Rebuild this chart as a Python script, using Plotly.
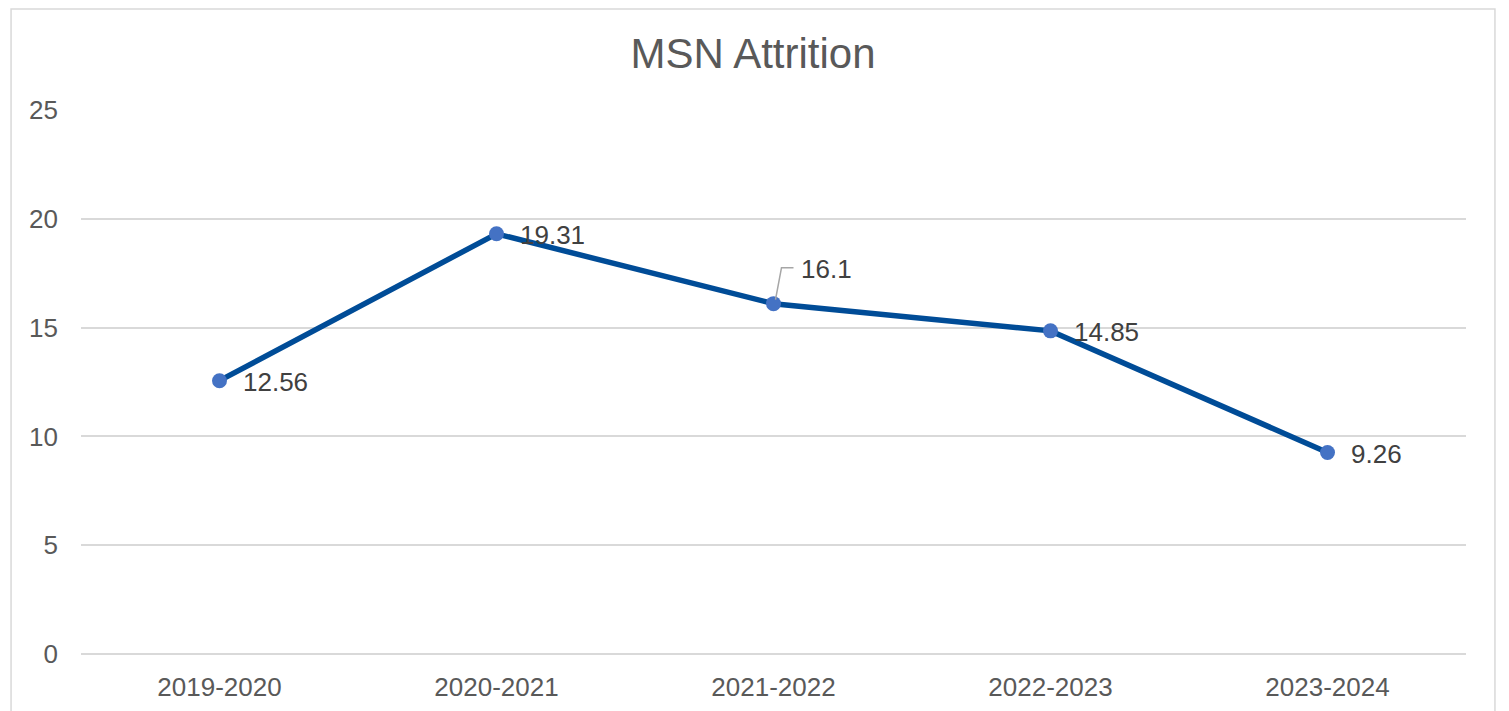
import plotly.graph_objects as go

years = ["2019-2020", "2020-2021", "2021-2022", "2022-2023", "2023-2024"]
attrition = [12.56, 19.31, 16.1, 14.85, 9.26]
y_ticks = [0, 5, 10, 15, 20, 25]

FONT = "Arial, Liberation Sans, sans-serif"
TXT = "#595959"
GRID = "#d9d9d9"

fig = go.Figure()
fig.add_trace(go.Scatter(
    x=years, y=attrition, mode="lines+markers",
    line=dict(color="#004c97", width=5.5),
    marker=dict(color="#4472c4", size=15),
    hoverinfo="x+y", showlegend=False,
))

# data labels
for c, v in zip(years, attrition):
    if c == "2021-2022":
        fig.add_annotation(x=c, y=v, text=f"{v:g}", showarrow=False,
                           xanchor="left", yanchor="middle", xshift=25, yshift=35,
                           font=dict(family=FONT, size=26, color="#404040"))
        fig.add_shape(type="path", xref="x", yref="y",
                      xsizemode="pixel", ysizemode="pixel",
                      xanchor=c, yanchor=v,
                      path="M 2,4 L 8,36 L 20,36",
                      line=dict(color="#a6a6a6", width=1.5))
    else:
        fig.add_annotation(x=c, y=v, text=f"{v:g}", showarrow=False,
                           xanchor="left", yanchor="middle", xshift=21, yshift=-1,
                           font=dict(family=FONT, size=26, color="#404040"))

# outer chart border
fig.add_shape(type="rect", xref="paper", yref="paper",
              x0=-0.0505, x1=1.0209, y0=-0.15, y1=1.1857,
              line=dict(color=GRID, width=1.5), layer="below")

fig.update_layout(
    width=1509, height=711,
    margin=dict(l=73, r=51, t=102, b=65),
    paper_bgcolor="white", plot_bgcolor="white",
    title=dict(text="MSN Attrition", x=745 / 1509,
               xanchor="center", xref="container",
               y=1 - 45 / 711, yanchor="middle", yref="container",
               font=dict(family=FONT, size=42, color=TXT)),
    font=dict(family=FONT, color=TXT),
    xaxis=dict(type="category", range=[-0.5, 4.5], showgrid=False,
               showline=False, zeroline=False, ticks="",
               tickfont=dict(family=FONT, size=26, color=TXT),
               ticklabelstandoff=15, fixedrange=True),
    yaxis=dict(range=[0, 25], tickvals=y_ticks, showgrid=True,
               gridcolor=GRID, gridwidth=1.5, zeroline=True, zerolinecolor=GRID,
               zerolinewidth=1.5, showline=False, ticks="",
               tickfont=dict(family=FONT, size=26, color=TXT),
               ticklabelstandoff=22, fixedrange=True),
)

fig.write_html("out.html")
